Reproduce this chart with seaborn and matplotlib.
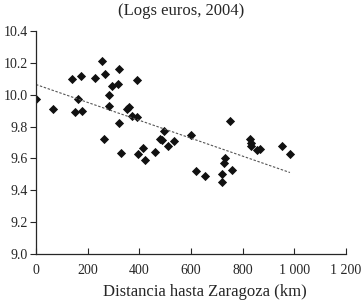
import numpy as np
import pandas as pd
import matplotlib
matplotlib.use("Agg")
import matplotlib.pyplot as plt
import seaborn as sns

# Data: distance to Zaragoza (km) vs log GDP per capita
distancia = [0, 67, 138, 151, 164, 174, 177, 228, 256, 264, 266, 282, 284, 293,
             318, 321, 321, 329, 352, 361, 371, 392, 392, 394, 415, 421, 460,
             479, 489, 496, 512, 534, 600, 619, 654, 721, 721, 728, 732, 751,
             758, 829, 832, 832, 857, 867, 952, 983]
log_pib = [9.97, 9.91, 10.10, 9.89, 9.975, 10.115, 9.90, 10.105, 10.21, 9.72,
           10.13, 9.93, 10.00, 10.055, 10.07, 10.16, 9.82, 9.635, 9.91, 9.925,
           9.865, 9.86, 10.09, 9.625, 9.665, 9.59, 9.64, 9.72, 9.715, 9.77,
           9.675, 9.71, 9.745, 9.52, 9.49, 9.50, 9.455, 9.57, 9.60, 9.835,
           9.525, 9.72, 9.695, 9.675, 9.65, 9.66, 9.68, 9.63]

x_ticks = [0, 200, 400, 600, 800, 1000, 1200]
x_ticklabels = ["0", "200", "400", "600", "800", "1 000", "1 200"]
y_ticks = [9.0, 9.2, 9.4, 9.6, 9.8, 10.0, 10.2, 10.4]
y_ticklabels = ["9.0", "9.2", "9.4", "9.6", "9.8", "10.0", "10.2", "10.4"]

df = pd.DataFrame({"distancia": distancia, "log_pib": log_pib})

sns.set_style("ticks")
plt.rcParams["font.family"] = ["Liberation Serif", "DejaVu Serif"]

fig = plt.figure(figsize=(3.62, 3.01), dpi=100)
ax = fig.add_axes([36 / 362, 47 / 301, 310 / 362, 223 / 301])

sns.regplot(
    data=df, x="distancia", y="log_pib", ci=None, ax=ax,
    marker="D",
    scatter_kws={"s": 22, "color": "#111111", "linewidths": 0, "alpha": 1},
    line_kws={"color": "#555555", "linewidth": 0.8, "linestyle": (0, (2.2, 1.5))},
)

ax.set_xlim(0, 1200)
ax.set_ylim(9.0, 10.4)
ax.set_xticks(x_ticks)
ax.set_xticklabels(x_ticklabels)
ax.set_yticks(y_ticks)
ax.set_yticklabels(y_ticklabels)
ax.tick_params(axis="x", direction="in", length=4, width=0.8, labelsize=10, pad=7)
ax.tick_params(axis="y", direction="out", length=4, width=0.8, labelsize=10, pad=2)

ax.spines["top"].set_visible(False)
ax.spines["right"].set_visible(False)
ax.spines["left"].set_linewidth(0.9)
ax.spines["bottom"].set_linewidth(0.9)

ax.set_xlabel("Distancia hasta Zaragoza (km)", fontsize=12)
ax.xaxis.set_label_coords((205 - 36) / 310, -30 / 223)
ax.set_ylabel("")

fig.text(0.5, 0.965, "(Logs euros, 2004)", ha="center", va="center", fontsize=12)

fig.savefig("out.png", dpi=100)
